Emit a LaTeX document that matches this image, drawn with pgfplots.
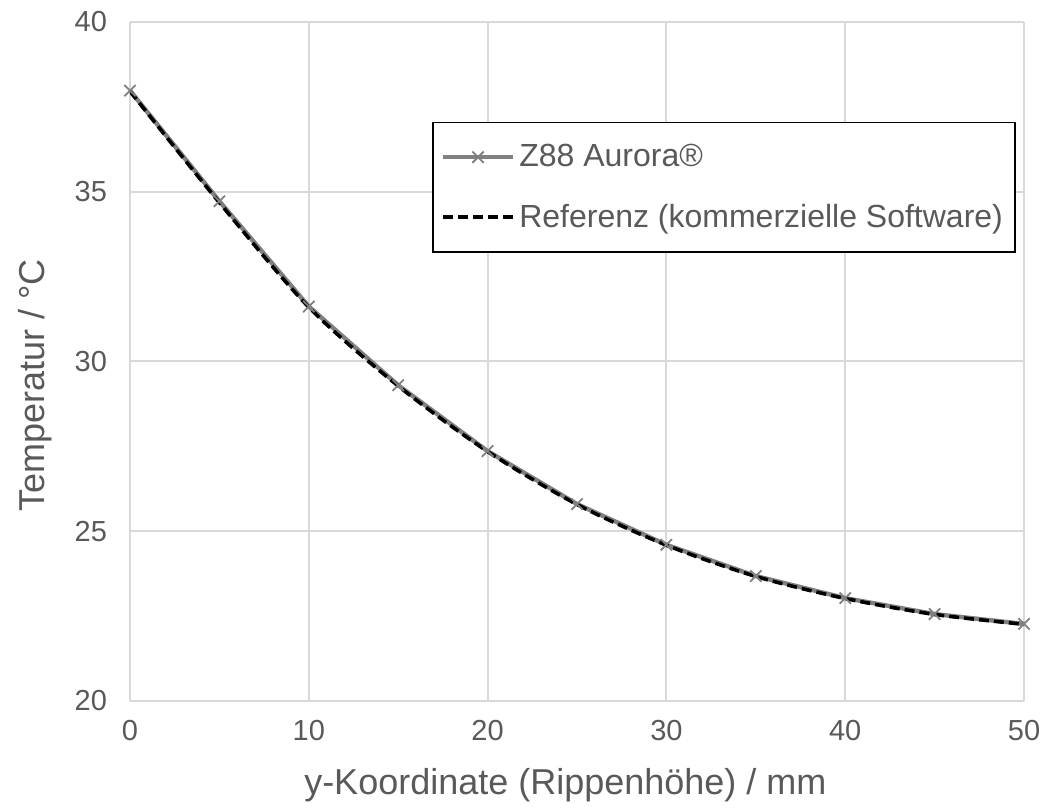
\documentclass[border=0pt]{standalone}
\usepackage{pgfplots}
\pgfplotsset{compat=1.18}
\usepackage{fontspec}
\setmainfont{Liberation Sans}
\definecolor{tickgray}{HTML}{595959}
\definecolor{gridgray}{HTML}{D9D9D9}
\definecolor{linegray}{HTML}{808080}
\begin{document}
\begin{tikzpicture}
\begin{axis}[
  scale only axis,
  width=447pt, height=339.5pt,
  xmin=0, xmax=50, ymin=20, ymax=40,
  xtick={0,10,...,50}, ytick={20,25,...,40},
  grid=major,
  major grid style={gridgray, line width=1pt},
  axis line style={draw=none},
  tick style={draw=none},
  ticklabel style={font=\fontsize{14.5}{17}\selectfont, text=tickgray},
  /pgf/number format/assume math mode=true,
  xticklabel style={yshift=-6pt},
  yticklabel style={xshift=-8pt},
  xlabel={y-Koordinate (Rippenhöhe) / mm},
  ylabel={Temperatur / °C},
  label style={font=\fontsize{18}{21}\selectfont, text=tickgray},
  xlabel style={at={(axis description cs:0.487,-0.1384)}, anchor=base},
  ylabel style={at={(axis description cs:-0.0951,0.465)}, anchor=base},
  legend style={at={(axis description cs:0.338,0.853)}, anchor=north west,
    draw=black, line width=0.7pt, font=\fontsize{16}{19}\selectfont, text=tickgray,
    row sep=13pt, inner xsep=4pt, inner ysep=9pt,
    nodes={inner xsep=2pt}},
  legend cell align=left,
  legend image code/.code={
    \draw[mark repeat=2,mark phase=2] plot coordinates {(0pt,0pt) (17.5pt,0pt) (35pt,0pt)};},
]
\addplot[linegray, line width=2.2pt, mark=x, mark size=4pt, mark options={solid, line width=0.9pt}]
  coordinates {(0,37.98) (5,34.72) (10,31.62) (15,29.30) (20,27.36) (25,25.80) (30,24.60) (35,23.68) (40,23.03) (45,22.56) (50,22.27)};
\addlegendentry{Z88 Aurora®}
\addplot[black, line width=1.8pt, dash pattern=on 5pt off 2.5pt, smooth]
  coordinates {(0,37.96) (5,34.68) (10,31.60) (15,29.28) (20,27.35) (25,25.79) (30,24.59) (35,23.67) (40,23.02) (45,22.55) (50,22.26)};
\addlegendentry{Referenz (kommerzielle Software)}
\end{axis}
\path[use as bounding box] (-65pt,-51.5pt) rectangle (465pt,350.5pt);
\end{tikzpicture}
\end{document}
